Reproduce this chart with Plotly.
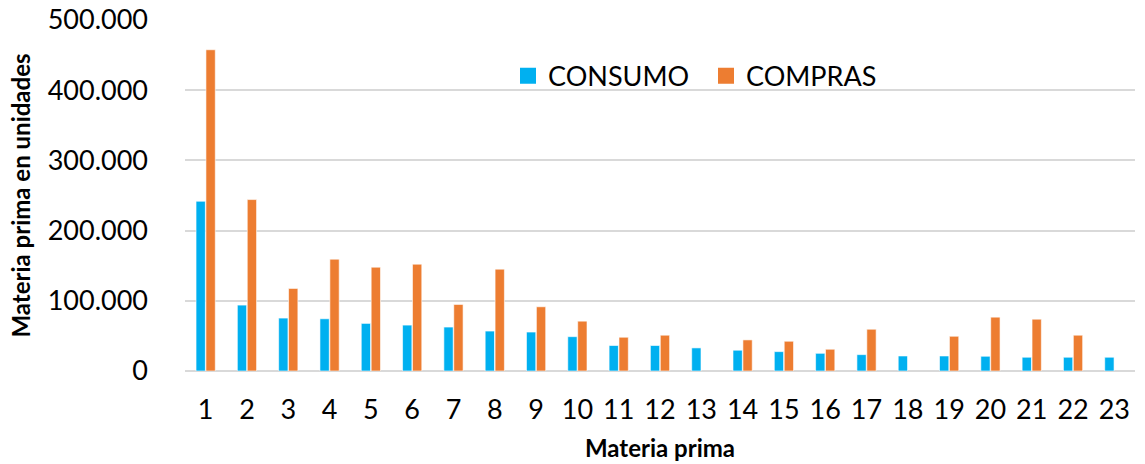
import plotly.graph_objects as go

# Materia prima: consumo vs compras (unidades)
categorias = [str(i) for i in range(1, 24)]
consumo = [241800, 93900, 75400, 74400, 67800, 65400, 62600, 56900, 55500, 48900,
           36300, 36300, 32900, 29600, 27600, 25200, 23300, 21400, 21400, 21000,
           19600, 19600, 19600]
compras = [457600, 244200, 117600, 159300, 147900, 152200, 94800, 145100, 91500, 71000,
           48100, 51000, None, 44300, 42400, 31000, 59500, None, 49500, 76700,
           73800, 51000, None]
y_ticks = [0, 100000, 200000, 300000, 400000, 500000]

FONT = "Lato"
AZUL = "#00B0F0"
NARANJA = "#ED7D31"

fig = go.Figure()
fig.add_trace(go.Bar(name="CONSUMO", x=categorias, y=consumo, showlegend=False,
                     marker=dict(color=AZUL, line=dict(color="white", width=0.6))))
fig.add_trace(go.Bar(name="COMPRAS", x=categorias, y=compras, showlegend=False,
                     marker=dict(color=NARANJA, line=dict(color="white", width=0.6))))

# legend entries with larger square swatches
for nombre, color in [("CONSUMO", AZUL), ("COMPRAS", NARANJA)]:
    fig.add_trace(go.Scatter(name=nombre, x=[None], y=[None], mode="markers",
                             marker=dict(symbol="square", size=18, color=color),
                             showlegend=True, hoverinfo="skip"))

fig.update_layout(
    width=1145, height=464,
    margin=dict(l=185, r=10, t=20, b=93),
    paper_bgcolor="white", plot_bgcolor="white",
    separators=",.",
    barmode="group", bargap=0.52, bargroupgap=0.06,
    font=dict(family=FONT, color="#000000"),
    legend=dict(orientation="h", x=0.34, y=0.84, xanchor="left", yanchor="middle",
                font=dict(size=27, family=FONT), bgcolor="rgba(0,0,0,0)",
                itemwidth=30, traceorder="normal", itemsizing="trace",
                entrywidth=153, entrywidthmode="pixels"),
    xaxis=dict(
        type="category", showgrid=False, showline=False, zeroline=False,
        automargin=False,
        tickfont=dict(size=27, family=FONT), ticks="", ticklabelstandoff=20,
        title=dict(text="<b>Materia prima</b>", font=dict(size=24, family=FONT), standoff=16),
    ),
    yaxis=dict(
        range=[0, 500000], tickvals=y_ticks, tickformat=",d",
        showgrid=True, gridcolor="#d9d9d9", gridwidth=1.5,
        zeroline=True, zerolinecolor="#d9d9d9", zerolinewidth=1.5,
        showline=False, ticks="", ticklabelstandoff=36, automargin=False,
        tickfont=dict(size=27, family=FONT),
        title=dict(text="<b>Materia prima en unidades</b>", font=dict(size=24, family=FONT), standoff=10),
    ),
)

fig.write_html("out.html")
